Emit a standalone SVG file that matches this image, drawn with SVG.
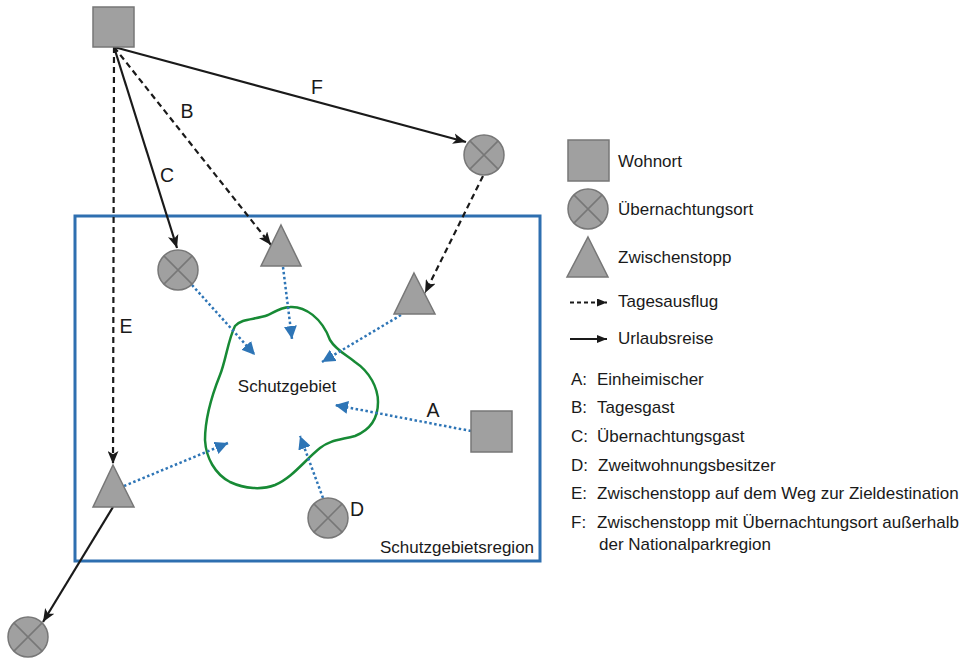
<svg xmlns="http://www.w3.org/2000/svg" width="964" height="660" viewBox="0 0 964 660">
<style>
.n{fill:#a0a0a0;stroke:#777;stroke-width:1.5}
.x{stroke:#777;stroke-width:1.5;fill:none}
.t{font-family:"Liberation Sans",Arial,sans-serif;font-size:17px;fill:#1a1a1a}
.lb{font-family:"Liberation Sans",Arial,sans-serif;font-size:19.5px;fill:#1a1a1a}
.s{stroke:#1a1a1a;stroke-width:2.2;fill:none;marker-end:url(#ab)}
.d{stroke:#1a1a1a;stroke-width:2.2;fill:none;stroke-dasharray:6 4;marker-end:url(#ab)}
.b{stroke:#2e75b6;stroke-width:2.5;fill:none;stroke-dasharray:2.5 2.5;marker-end:url(#abl)}
</style>
<defs>
<marker id="ab" viewBox="0 0 12 10" refX="12" refY="5" markerWidth="13" markerHeight="11" markerUnits="userSpaceOnUse" orient="auto"><path d="M0,0 L12,5 L0,10 L3,5 z" fill="#1a1a1a"/></marker>
<marker id="abl" viewBox="0 0 12 12" refX="12" refY="6" markerWidth="13" markerHeight="13" markerUnits="userSpaceOnUse" orient="auto"><path d="M0,0 L12,6 L0,12 z" fill="#2e75b6"/></marker>
<marker id="as" viewBox="0 0 10 8" refX="10" refY="4" markerWidth="10" markerHeight="8" markerUnits="userSpaceOnUse" orient="auto"><path d="M0,0 L10,4 L0,8 z" fill="#1a1a1a"/></marker>
</defs>
<rect x="75" y="216" width="465" height="345" fill="none" stroke="#2e6fb0" stroke-width="3"/>
<text class="t" x="380" y="553">Schutzgebietsregion</text>
<g id="schutzgebiet">
<path d="M290,307 C305,306 322,318 330,340 C336,350 345,354 355,362 C370,372 378,388 378,402 C378,418 370,430 355,436 C340,440 330,440 320,448 C305,460 292,478 275,485 C262,490 245,489 230,482 C215,474 206,458 205,440 C205,420 210,400 220,375 C226,360 228,340 235,326 C242,318 255,320 268,315 C278,310 283,307 290,307 Z" fill="none" stroke="#178a35" stroke-width="2.5"/>
<text class="t" x="287" y="392" text-anchor="middle">Schutzgebiet</text>
</g>
<g id="connectors">
<path class="s" d="M114,47 L466,142"/>
<path class="s" d="M114,47 L177,248"/>
<path class="d" d="M114,47 L271,245"/>
<path class="d" d="M114,47 L113,464"/>
<path class="d" d="M483,176 L425,293"/>
<path class="s" d="M113,507 L43,622"/>
<path class="b" d="M192,285 L255,355"/>
<path class="b" d="M283,267 L292,339"/>
<path class="b" d="M401,315 L322,362"/>
<path class="b" d="M471,431 L335,405"/>
<path class="b" d="M124,486 L228,443"/>
<path class="b" d="M323,498 L300,436"/>
</g>
<g id="labels">
<text class="lb" x="187" y="118" text-anchor="middle">B</text>
<text class="lb" x="317" y="94" text-anchor="middle">F</text>
<text class="lb" x="167" y="182" text-anchor="middle">C</text>
<text class="lb" x="126" y="333" text-anchor="middle">E</text>
<text class="lb" x="433" y="417" text-anchor="middle">A</text>
<text class="lb" x="357" y="516" text-anchor="middle">D</text>
</g>
<g id="wohnort-top"><rect class="n" x="93" y="7" width="41" height="40"/></g>
<g id="uebernachtung-f"><circle class="n" cx="484" cy="155" r="20"/><path class="x" d="M469.9,140.9 L498.1,169.1 M498.1,140.9 L469.9,169.1"/></g>
<g id="uebernachtung-c"><circle class="n" cx="178" cy="270" r="20"/><path class="x" d="M163.9,255.9 L192.1,284.1 M192.1,255.9 L163.9,284.1"/></g>
<g id="zwischenstopp-b"><path class="n" d="M281,225 L301,266 L261,266 Z"/></g>
<g id="zwischenstopp-f"><path class="n" d="M414,273 L435,314 L394,314 Z"/></g>
<g id="zwischenstopp-e"><path class="n" d="M113,465 L134,507 L93,507 Z"/></g>
<g id="uebernachtung-e"><circle class="n" cx="28" cy="637" r="20"/><path class="x" d="M13.9,622.9 L42.1,651.1 M42.1,622.9 L13.9,651.1"/></g>
<g id="uebernachtung-d"><circle class="n" cx="328" cy="518" r="20"/><path class="x" d="M313.9,503.9 L342.1,532.1 M342.1,503.9 L313.9,532.1"/></g>
<g id="wohnort-a"><rect class="n" x="471" y="411" width="41" height="41"/></g>
<g id="legend">
<rect class="n" x="568" y="140" width="41" height="41"/>
<text class="t" x="618" y="167">Wohnort</text>
<circle class="n" cx="588" cy="209" r="20"/><path class="x" d="M573.9,194.9 L602.1,223.1 M602.1,194.9 L573.9,223.1"/>
<text class="t" x="618" y="215">Übernachtungsort</text>
<path class="n" d="M588,237 L608,277 L567,277 Z"/>
<text class="t" x="618" y="263">Zwischenstopp</text>
<path d="M570,302.5 L607,302.5" stroke="#1a1a1a" stroke-width="1.8" stroke-dasharray="4 3" marker-end="url(#as)"/>
<text class="t" x="618" y="307">Tagesausflug</text>
<path d="M570,339 L607,339" stroke="#1a1a1a" stroke-width="1.8" marker-end="url(#as)"/>
<text class="t" x="618" y="344">Urlaubsreise</text>
<text class="t" x="571" y="385">A:</text><text class="t" x="597" y="385">Einheimischer</text>
<text class="t" x="571" y="413">B:</text><text class="t" x="597" y="413">Tagesgast</text>
<text class="t" x="571" y="442">C:</text><text class="t" x="597" y="442">Übernachtungsgast</text>
<text class="t" x="571" y="471">D:</text><text class="t" x="598" y="471">Zweitwohnungsbesitzer</text>
<text class="t" x="571" y="499">E:</text><text class="t" x="597" y="499">Zwischenstopp auf dem Weg zur Zieldestination</text>
<text class="t" x="571" y="528">F:</text><text class="t" x="597" y="528">Zwischenstopp mit Übernachtungsort außerhalb</text>
<text class="t" x="599" y="550">der Nationalparkregion</text>
</g>
</svg>
